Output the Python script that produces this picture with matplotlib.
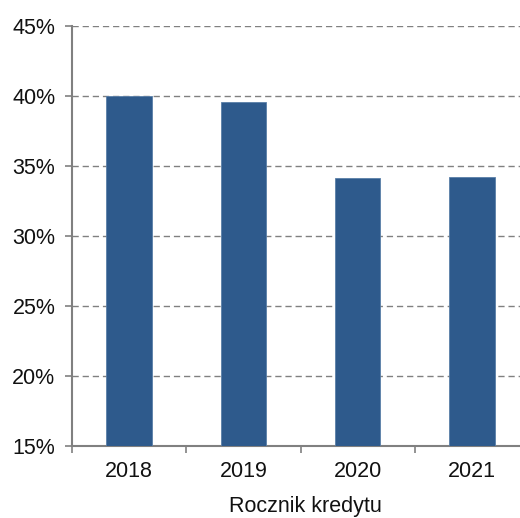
import numpy as np
import matplotlib
matplotlib.use('Agg')
import matplotlib.pyplot as plt
from matplotlib.ticker import FuncFormatter

# Data
years = ['2018', '2019', '2020', '2021']
share = [40.0, 39.55, 34.12, 34.18]
y_ticks = [15, 20, 25, 30, 35, 40, 45]

plt.rcParams['font.family'] = ['Liberation Sans', 'DejaVu Sans']

fig = plt.figure(figsize=(5.2, 5.18), dpi=100)
ax = fig.add_axes([72 / 520, 72 / 518, 457 / 520, 420 / 518])

x = np.arange(len(years))
ax.bar(x, share, width=0.4, bottom=0, color='#2E5A8C', edgecolor='#5a7fa8',
       linewidth=0.6, zorder=3)

ax.set_ylim(15, 45)
ax.set_xlim(-0.5, len(years) - 0.5)
ax.set_yticks(y_ticks)
ax.yaxis.set_major_formatter(FuncFormatter(lambda v, _: f'{v:.0f}%'))

# category separators as ticks, labels centred on bars
ax.set_xticks(np.arange(len(years) + 1) - 0.5)
ax.set_xticklabels([])
ax.set_xticks(x, minor=True)
ax.set_xticklabels(years, minor=True)
ax.tick_params(axis='x', which='major', length=5, width=1.2, color='#808080', direction='out')
ax.tick_params(axis='x', which='minor', length=0, labelsize=15.5, pad=11, labelcolor='#111111')
ax.tick_params(axis='y', length=5, width=1.2, color='#808080', labelsize=15.5,
               pad=7, labelcolor='#111111')

ax.grid(axis='y', linestyle=(0, (4.5, 2.8)), color='#808080', linewidth=1.0, zorder=0)
for s in ['top', 'right']:
    ax.spines[s].set_visible(False)
for s in ['left', 'bottom']:
    ax.spines[s].set_color('#808080')
    ax.spines[s].set_linewidth(1.5)

ax.set_xlabel('Rocznik kredytu', fontsize=15.5, color='#111111')
ax.xaxis.set_label_coords(0.51, -0.118)

fig.savefig('out.png', dpi=100)
